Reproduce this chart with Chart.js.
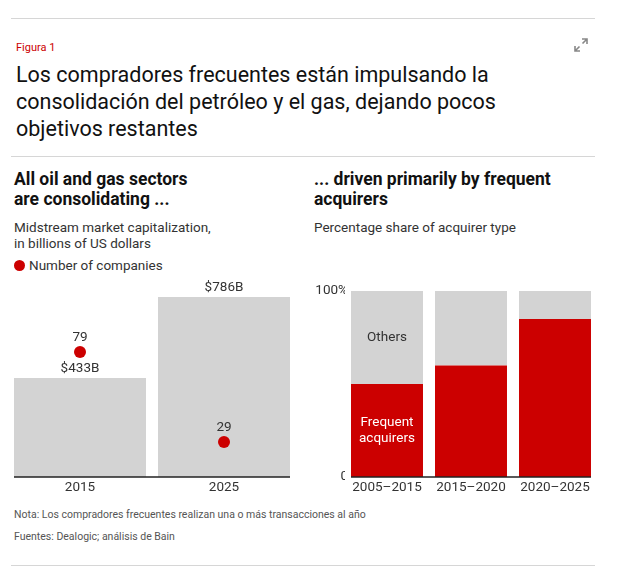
<!DOCTYPE html>
<html lang="es">
<head>
<meta charset="UTF-8">
<title>Figura 1</title>
<script src="https://cdn.jsdelivr.net/npm/chart.js"></script>
<style>
  html, body { margin: 0; padding: 0; background: #fff; }
  body { width: 625px; height: 572px; position: relative; font-family: Roboto, "Noto Sans", sans-serif; color: #111; overflow: hidden; }
  .rule { position: absolute; left: 11px; width: 584px; height: 1px; background: #d6d6d6; }
  #fig { position: absolute; left: 16px; top: 41px; font-size: 11px; color: #cc0000; }
  #expand { position: absolute; left: 574px; top: 38px; }
  #title { position: absolute; left: 16px; top: 61px; font-size: 21.5px; line-height: 27px; color: #111; width: 510px; }
  .sub { position: absolute; top: 169px; font-size: 17.5px; font-weight: bold; line-height: 20px; color: #111; }
  .desc { position: absolute; top: 219px; font-size: 13.5px; line-height: 16px; color: #333; }
  #legend { position: absolute; left: 14px; top: 257px; font-size: 13.5px; color: #333; }
  #legend span { display: inline-block; width: 11px; height: 11px; border-radius: 50%; background: #cc0000; vertical-align: -1px; margin-right: 4px; }
  .note { position: absolute; left: 14px; font-size: 10.5px; color: #555; }
  canvas { position: absolute; }
</style>
</head>
<body>
<div class="rule" style="top:18px"></div>
<div id="fig">Figura 1</div>
<svg id="expand" width="14" height="14" viewBox="0 0 14 14">
  <path d="M8 1h5v5M13 1L8.5 5.5M6 13H1V8M1 13l4.5-4.5" stroke="#888" stroke-width="1.6" fill="none"/>
</svg>
<div id="title">Los compradores frecuentes están impulsando la consolidación del petróleo y el gas, dejando pocos objetivos restantes</div>
<div class="rule" style="top:156px"></div>

<div class="sub" style="left:14px">All oil and gas sectors<br>are consolidating ...</div>
<div class="desc" style="left:14px">Midstream market capitalization,<br>in billions of US dollars</div>
<div id="legend"><span></span>Number of companies</div>

<div class="sub" style="left:314px">... driven primarily by frequent<br>acquirers</div>
<div class="desc" style="left:314px">Percentage share of acquirer type</div>

<canvas id="chartIzq" style="left:8px; top:270px; width:288px; height:232px"></canvas>
<canvas id="chartDer" style="left:300px; top:270px; width:297px; height:232px"></canvas>

<div class="note" style="top:508px">Nota: Los compradores frecuentes realizan una o más transacciones al año</div>
<div class="note" style="top:530px">Fuentes: Dealogic; análisis de Bain</div>
<div class="rule" style="top:565px"></div>

<script>
// datos
var anios = ['2015', '2025'];
var capMercado = [433, 786];
var numEmpresas = [79, 29];

var periodos = ['2005–2015', '2015–2020', '2020–2025'];
var frecuentes = [50, 60, 85];
var otros = [50, 40, 15];
var ticksPct = [0, 100];
var ticksPctTexto = ['0', '100%'];

var rojo = '#cc0000';
var gris = '#d3d3d3';
var fuente = 'Roboto, "Noto Sans", sans-serif';

Chart.defaults.font.family = fuente;
Chart.defaults.animation = false;

// linea base solo bajo las barras (de borde a borde)
function lineaBase(indice) {
  return {
    id: 'lineaBase' + indice,
    afterDatasetsDraw: function (chart) {
      var barras = chart.getDatasetMeta(indice).data;
      var a = barras[0], b = barras[barras.length - 1];
      var ctx = chart.ctx;
      ctx.save();
      ctx.strokeStyle = '#222';
      ctx.lineWidth = 1.5;
      ctx.beginPath();
      ctx.moveTo(a.x - a.width / 2, chart.chartArea.bottom);
      ctx.lineTo(b.x + b.width / 2, chart.chartArea.bottom);
      ctx.stroke();
      ctx.restore();
    }
  };
}

// etiquetas sobre barras y puntos (grafico izquierdo)
var etiquetasIzq = {
  id: 'etiquetasIzq',
  afterDatasetsDraw: function (chart) {
    var ctx = chart.ctx;
    ctx.save();
    ctx.font = '13.5px ' + fuente;
    ctx.fillStyle = '#333';
    ctx.textAlign = 'center';
    ctx.textBaseline = 'middle';
    chart.getDatasetMeta(1).data.forEach(function (bar, i) {
      ctx.fillText('$' + capMercado[i] + 'B', bar.x, bar.y - 9);
    });
    chart.getDatasetMeta(0).data.forEach(function (pt, i) {
      ctx.fillText(numEmpresas[i], pt.x, pt.y - 14);
    });
    ctx.restore();
  }
};

new Chart(document.getElementById('chartIzq'), {
  type: 'bar',
  data: {
    labels: anios,
    datasets: [{
      type: 'line',
      label: 'Number of companies',
      data: numEmpresas,
      yAxisID: 'y2',
      showLine: false,
      pointRadius: 6,
      pointBackgroundColor: rojo,
      pointBorderWidth: 0,
      clip: false,
      order: 0
    }, {
      label: 'Market cap',
      data: capMercado,
      backgroundColor: gris,
      barPercentage: 0.9167,
      categoryPercentage: 1,
      order: 1
    }]
  },
  options: {
    responsive: false,
    layout: { autoPadding: false, padding: { top: 20, left: 0, right: 0, bottom: 0 } },
    plugins: { legend: { display: false }, tooltip: { enabled: false } },
    scales: {
      x: {
        grid: { display: false, drawTicks: false },
        border: { display: false },
        ticks: { color: '#333', font: { size: 13.5 }, padding: 3 },
        afterFit: function (s) { s.height = 25; s.paddingLeft = 0; s.paddingRight = 0; }
      },
      y: { display: false, min: 0, max: 817 },
      y2: { display: false, min: 9.6, max: 113.5 }
    }
  },
  plugins: [etiquetasIzq, lineaBase(1)]
});

// etiquetas de series dentro de la primera barra (grafico derecho)
var etiquetasDer = {
  id: 'etiquetasDer',
  afterDatasetsDraw: function (chart) {
    var ctx = chart.ctx;
    ctx.save();
    ctx.font = '13.5px ' + fuente;
    ctx.textAlign = 'center';
    ctx.textBaseline = 'middle';
    var f = chart.getDatasetMeta(0).data[0];
    var o = chart.getDatasetMeta(1).data[0];
    ctx.fillStyle = '#fff';
    var palabras = chart.data.datasets[0].label.split(' ');
    var yc = (f.y + f.base) / 2;
    ctx.fillText(palabras[0], f.x, yc - 8);
    ctx.fillText(palabras[1], f.x, yc + 8);
    ctx.fillStyle = '#333';
    ctx.fillText(chart.data.datasets[1].label, o.x, (o.y + o.base) / 2);
    ctx.restore();
  }
};

new Chart(document.getElementById('chartDer'), {
  type: 'bar',
  data: {
    labels: periodos,
    datasets: [{
      label: 'Frequent acquirers',
      data: frecuentes,
      backgroundColor: rojo,
      barPercentage: 0.857,
      categoryPercentage: 1
    }, {
      label: 'Others',
      data: otros,
      backgroundColor: gris,
      barPercentage: 0.857,
      categoryPercentage: 1
    }]
  },
  options: {
    responsive: false,
    layout: { autoPadding: false, padding: { top: 21, left: 0, right: 0, bottom: 0 } },
    plugins: { legend: { display: false }, tooltip: { enabled: false } },
    scales: {
      x: {
        stacked: true,
        grid: { display: false, drawTicks: false },
        border: { display: false },
        ticks: { color: '#333', font: { size: 13.5 }, padding: 3 },
        afterFit: function (s) { s.height = 25; s.paddingLeft = 0; s.paddingRight = 0; }
      },
      y: {
        stacked: true,
        min: 0,
        max: 100,
        grid: { display: false, drawTicks: false },
        border: { display: false },
        afterBuildTicks: function (s) { s.ticks = ticksPct.map(function (v) { return { value: v }; }); },
        ticks: {
          color: '#333',
          font: { size: 13.5 },
          padding: -3,
          labelOffset: 0,
          callback: function (v) { return ticksPctTexto[ticksPct.indexOf(v)]; }
        },
        afterFit: function (s) { s.width = 45; s.paddingTop = 0; s.paddingBottom = 0; }
      }
    }
  },
  plugins: [etiquetasDer, lineaBase(0)]
});
</script>
</body>
</html>
